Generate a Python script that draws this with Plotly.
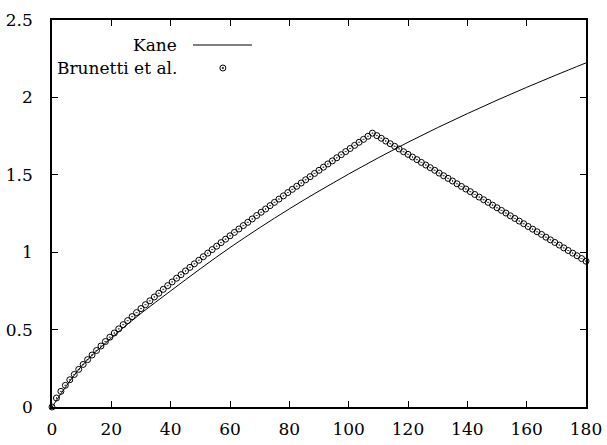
import plotly.graph_objects as go

# Kane curve (read every 10 units)
kane_x = [0, 10, 20, 30, 40, 50, 60, 70, 80, 90, 100, 110, 120, 130, 140, 150, 160, 170, 180]
kane_y = [0.0, 0.265, 0.446, 0.605, 0.750, 0.893, 1.030, 1.158, 1.280, 1.395, 1.505, 1.610, 1.710,
          1.805, 1.895, 1.982, 2.065, 2.145, 2.223]

# Brunetti et al. points (every 1.5 units)
brunetti_x = [0, 1.5, 3, 4.5, 6, 7.5, 9, 10.5, 12, 13.5, 15, 16.5, 18, 19.5, 21, 22.5, 24, 25.5, 27, 28.5,
              30, 31.5, 33, 34.5, 36, 37.5, 39, 40.5, 42, 43.5, 45, 46.5, 48, 49.5, 51, 52.5, 54, 55.5,
              57, 58.5, 60, 61.5, 63, 64.5, 66, 67.5, 69, 70.5, 72, 73.5, 75, 76.5, 78, 79.5, 81, 82.5,
              84, 85.5, 87, 88.5, 90, 91.5, 93, 94.5, 96, 97.5, 99, 100.5, 102, 103.5, 105, 106.5, 108,
              109.5, 111, 112.5, 114, 115.5, 117, 118.5, 120, 121.5, 123, 124.5, 126, 127.5, 129, 130.5,
              132, 133.5, 135, 136.5, 138, 139.5, 141, 142.5, 144, 145.5, 147, 148.5, 150, 151.5, 153,
              154.5, 156, 157.5, 159, 160.5, 162, 163.5, 165, 166.5, 168, 169.5, 171, 172.5, 174, 175.5,
              177, 178.5, 180]
brunetti_y = [0.0, 0.058, 0.101, 0.140, 0.176, 0.210, 0.243, 0.275, 0.306, 0.336, 0.365, 0.394, 0.423,
              0.451, 0.478, 0.505, 0.532, 0.558, 0.584, 0.610, 0.636, 0.661, 0.686, 0.711, 0.735, 0.760,
              0.784, 0.808, 0.832, 0.855, 0.879, 0.902, 0.925, 0.948, 0.971, 0.994, 1.017, 1.039, 1.062,
              1.084, 1.106, 1.128, 1.150, 1.172, 1.193, 1.215, 1.237, 1.258, 1.279, 1.301, 1.322, 1.343,
              1.364, 1.385, 1.406, 1.426, 1.447, 1.468, 1.488, 1.509, 1.529, 1.549, 1.570, 1.590, 1.610,
              1.630, 1.650, 1.670, 1.690, 1.710, 1.729, 1.749, 1.769,
              1.753, 1.736, 1.718, 1.701, 1.684, 1.667, 1.649, 1.632, 1.615, 1.598, 1.580, 1.563, 1.546,
              1.529, 1.511, 1.494, 1.477, 1.460, 1.442, 1.425, 1.408, 1.391, 1.373, 1.356, 1.339, 1.322,
              1.304, 1.287, 1.270, 1.253, 1.235, 1.218, 1.201, 1.184, 1.166, 1.149, 1.132, 1.115, 1.097,
              1.080, 1.063, 1.046, 1.028, 1.011, 0.994, 0.977, 0.959, 0.942]

x_ticks = [0, 20, 40, 60, 80, 100, 120, 140, 160, 180]
y_ticks = [0, 0.5, 1, 1.5, 2, 2.5]
y_tick_text = ["0", "0.5", "1", "1.5", "2", "2.5"]
legend_labels = ["Kane", "Brunetti et al."]

FONT = "DejaVu Serif"
FS = 17

fig = go.Figure()
fig.add_trace(go.Scatter(x=kane_x, y=kane_y, mode="lines", line=dict(color="black", width=1, shape="spline"),
                         name=legend_labels[0], showlegend=False))
fig.add_trace(go.Scatter(x=brunetti_x, y=brunetti_y, mode="markers", cliponaxis=False,
                         marker=dict(symbol="circle-open-dot", size=6, color="black", line=dict(width=1, color="black")),
                         name=legend_labels[1], showlegend=False))

axis_common = dict(showgrid=False, zeroline=False, showline=True, linecolor="black", linewidth=1.5,
                   mirror="ticks", ticks="inside", ticklen=6, tickwidth=1, tickcolor="black", automargin=False,
                   tickfont=dict(family=FONT, size=FS, color="black"))
fig.update_xaxes(range=[0, 180], tickvals=x_ticks, ticktext=[str(v) for v in x_ticks], ticklabelstandoff=6,
                 **axis_common)
fig.update_yaxes(range=[0, 2.5], tickvals=y_ticks, ticktext=y_tick_text, ticklabelstandoff=14, **axis_common)

# gnuplot-style key: text right-aligned, sample to the right
lx_text = 0.2378
ys = [0.9354, 0.8760]
for lab, yy in zip(legend_labels, ys):
    fig.add_annotation(x=lx_text, y=yy, xref="paper", yref="paper", text=lab, showarrow=False,
                       xanchor="right", yanchor="middle", font=dict(family=FONT, size=FS, color="black"))
fig.add_shape(type="line", xref="paper", yref="paper", x0=0.264, x1=0.3745, y0=ys[0], y1=ys[0],
              line=dict(color="black", width=1))
fig.add_shape(type="circle", xref="paper", yref="paper", xsizemode="pixel", ysizemode="pixel",
              xanchor=0.320, yanchor=ys[1], x0=-3, x1=3, y0=-3, y1=3, line=dict(color="black", width=1))
fig.add_shape(type="circle", xref="paper", yref="paper", xsizemode="pixel", ysizemode="pixel",
              xanchor=0.320, yanchor=ys[1], x0=-0.8, x1=0.8, y0=-0.8, y1=0.8, fillcolor="black",
              line=dict(color="black", width=0.5))

fig.update_layout(width=607, height=445, margin=dict(l=52, r=21, t=20, b=38, autoexpand=False),
                  paper_bgcolor="white", plot_bgcolor="white",
                  font=dict(family=FONT, size=FS, color="black"))
fig.write_html("out.html")
